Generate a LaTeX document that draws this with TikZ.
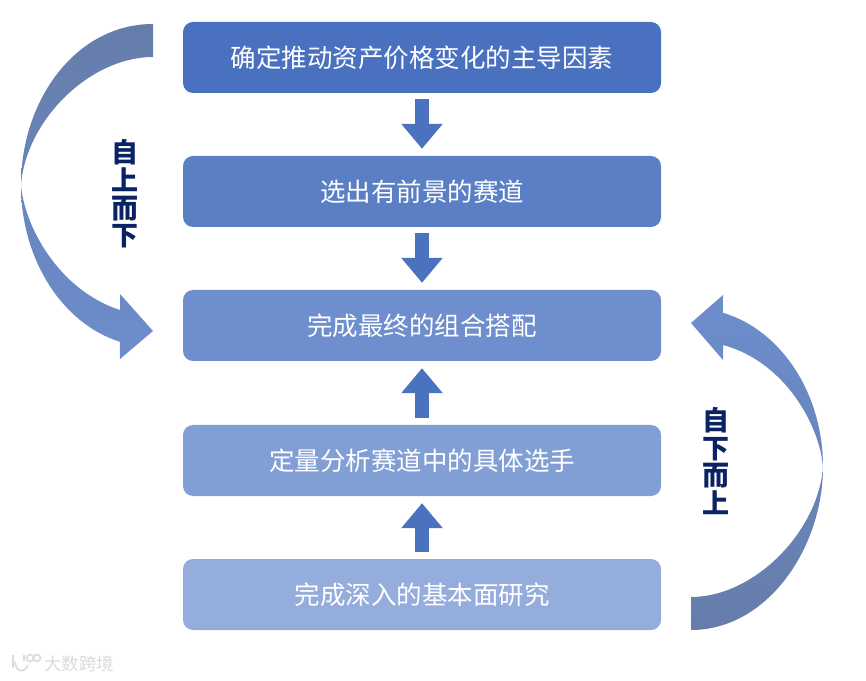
\documentclass[tikz,border=0pt]{standalone}
\usepackage{fontspec}
\setmainfont{Noto Sans CJK SC}
\usepackage{xcolor}
\usetikzlibrary{arrows.meta}

\definecolor{boxone}{HTML}{4A71BF}
\definecolor{boxtwo}{HTML}{5B7FC5}
\definecolor{boxthree}{HTML}{6F8ECE}
\definecolor{boxfour}{HTML}{829FD5}
\definecolor{boxfive}{HTML}{95ADDC}
\definecolor{flowblue}{HTML}{4A72BF}
\definecolor{sweepdark}{HTML}{667DAA}
\definecolor{sweepmid}{HTML}{6987C0}
\definecolor{sweeplight}{HTML}{6C8DCD}
\definecolor{labelnavy}{HTML}{0B2265}
\definecolor{markgray}{HTML}{DADADA}

\tikzset{
    stagebox/.style={fill=#1, text=white, rounded corners=10pt, minimum width=478pt,
        minimum height=71pt, inner sep=0pt, font=\fontsize{25.5}{30}\selectfont},
    flowarrow/.style={draw=flowblue, line width=14pt, -{Triangle[length=25pt,width=40pt]}},
    sidelabel/.style={text=labelnavy, align=center, inner sep=0pt,
        font=\fontsize{27}{27.7}\selectfont\bfseries},
    markline/.style={draw=markgray, line width=1.6pt}
}

\begin{document}
\begin{tikzpicture}[x=1pt, y=1pt]
    \useasboundingbox (0,0) rectangle (866,680);

    % Draw the five stages
    \node[stagebox=boxone] (factor) at (422,622.5) {确定推动资产价格变化的主导因素};
    \node[stagebox=boxtwo] (track) at (422,488.5) {选出有前景的赛道};
    \node[stagebox=boxthree] (portfolio) at (422,354.5) {完成最终的组合搭配};
    \node[stagebox=boxfour] (player) at (422,219.5) {定量分析赛道中的具体选手};
    \node[stagebox=boxfive] (basic) at (422,85.5) {完成深入的基本面研究};

    % Arrows between the stages
    \draw[flowarrow] ([yshift=-6pt]factor.south) -- ([yshift=7pt]track.north);
    \draw[flowarrow] ([yshift=-6pt]track.south) -- ([yshift=7pt]portfolio.north);
    \draw[flowarrow] ([yshift=7pt]player.north) -- ([yshift=-7pt]portfolio.south);
    \draw[flowarrow] ([yshift=7pt]basic.north) -- ([yshift=-7pt]player.south);

    % Left sweep, top to bottom
    \shade[top color=sweepdark, middle color=sweepmid, bottom color=sweeplight]
        (153,656) .. controls (76,656) and (21,580) .. (21,495)
        arc[start angle=180, end angle=255.5, x radius=132pt, y radius=162pt]
        -- (120,321) -- (153,349) -- (120,386) -- (120,370)
        .. controls (58,390) and (24,455) .. (21,495)
        .. controls (26,560) and (90,623) .. (153,623)
        -- cycle;

    % Right sweep, bottom to top
    \shade[bottom color=sweepdark, middle color=sweepmid, top color=sweeplight]
        (691,50) .. controls (768,50) and (823,133) .. (823,213)
        arc[start angle=0, end angle=76, x radius=132pt, y radius=159pt]
        -- (723,385) -- (691,357) -- (723,320) -- (723,335)
        .. controls (786,318) and (820,253) .. (823,213)
        .. controls (818,148) and (754,83) .. (691,83)
        -- cycle;

    % Side labels
    \node[sidelabel] (downlabel) at (125,486) {自\\上\\而\\下};
    \node[sidelabel] (uplabel) at (716,219) {自\\下\\而\\上};

    % Watermark
    \draw[markline] (13,25) -- (13,12);
    \draw[markline] (15,18) .. controls (16,8) and (24,6) .. (28,15);
    \draw[markline] (24,25) -- (24,19);
    \draw[markline] (30,22) circle (3.5pt);
    \draw[markline] (37,22) circle (3.5pt);
    \node[text=markgray, inner sep=0pt, font=\fontsize{17.5}{20}\selectfont] (mark) at (79,16.5) {大数跨境};
\end{tikzpicture}
\end{document}
